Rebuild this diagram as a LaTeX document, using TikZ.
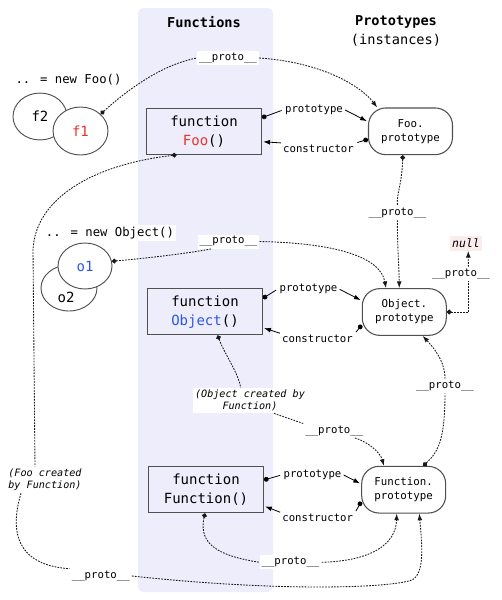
\documentclass[tikz,border=0pt]{standalone}
\usepackage{fontspec}
\setmainfont{DejaVu Sans Mono}[BoldFont={DejaVu Sans Mono Bold}, ItalicFont={DejaVu Sans Mono Oblique}]
\usetikzlibrary{arrows.meta, shapes.geometric}
\definecolor{bandblue}{RGB}{237,237,252}
\definecolor{foored}{RGB}{230,50,40}
\definecolor{objblue}{RGB}{45,85,235}
\definecolor{nullpink}{RGB}{252,237,237}
\definecolor{edgegray}{RGB}{80,80,80}

\begin{document}
\begin{tikzpicture}[x=0.75pt, y=-0.75pt, >={Latex[length=5pt, width=3.6pt]},
    ball/.tip={Circle[length=3.6pt]},
    fbox/.style={draw=edgegray, line width=0.9pt, minimum width=86pt, minimum height=34.5pt, align=center, inner sep=1pt, font=\fontsize{10.5}{14.25}\selectfont},
    pbox/.style={draw=edgegray, line width=0.8pt, rounded corners=13pt, minimum width=63pt, minimum height=35pt, align=center, inner sep=1pt, font=\fontsize{8.1}{10.5}\selectfont},
    inst/.style={draw=edgegray, line width=0.7pt, ellipse, fill=white, inner sep=0pt, font=\fontsize{10.5}{12}\selectfont},
    lbl/.style={fill=white, inner sep=1.5pt, font=\fontsize{8}{9.5}\selectfont},
    note/.style={fill=white, inner sep=1.5pt, font=\itshape\fontsize{7.6}{9.2}\selectfont},
    plink/.style={line width=0.6pt, black, shorten >=1pt},
    protolink/.style={line width=0.65pt, dash pattern=on 1.3pt off 0.9pt, black!90}]
    \useasboundingbox (0,0) rectangle (502,600);
    \fill [bandblue, rounded corners=4pt] (138,8) rectangle (273,592);

    \node [font=\bfseries\fontsize{10.2}{14.3}\selectfont] (hfunc) at (204,22) {Functions};
    \node [align=center, font=\fontsize{10.2}{14.3}\selectfont] (hproto) at (396,31) {\textbf{Prototypes}\\(instances)};

    % instances
    \node [lbl, font=\fontsize{9.2}{11}\selectfont] (newfoo) at (68.5,80) {.. = new Foo()};
    \node [inst, minimum width=40.5pt, minimum height=35.2pt] (f2) at (40,116.5) {f2};
    \node [inst, minimum width=41.2pt, minimum height=36pt] (f1) at (80.5,131) {\textcolor{foored}{f1}};
    \node [lbl, font=\fontsize{9.2}{11}\selectfont] (newobj) at (110,233.3) {.. = new Object()};
    \node [inst, minimum width=42pt, minimum height=34.5pt] (o2) at (69,288) {};
    \node [font=\fontsize{10.5}{12}\selectfont] (o2txt) at (66,297) {o2};
    \node [inst, minimum width=40.5pt, minimum height=34.5pt] (o1) at (85,266) {\textcolor{objblue}{o1}};

    % functions and prototypes
    \node [fbox] (foo) at (204,131.3) {function\\\textcolor{foored}{Foo}()};
    \node [fbox] (object) at (205,311.7) {function\\\textcolor{objblue}{Object}()};
    \node [fbox] (function) at (206,489.7) {function\\Function()};
    \node [pbox] (fooproto) at (410.5,131.3) {Foo.\\prototype};
    \node [pbox] (objproto) at (404.3,312) {Object.\\prototype};
    \node [pbox] (funcproto) at (403.7,489.7) {Function.\\prototype};
    \node [fill=nullpink, inner sep=2pt, font=\itshape\fontsize{8.6}{10}\selectfont] (nullv) at (466,243.5) {null};

    % labels
    \node [lbl] (pr1) at (314,110) {prototype};
    \node [lbl] (co1) at (318.5,149) {constructor};
    \node [lbl] (pr2) at (308.5,289.3) {prototype};
    \node [lbl] (co2) at (317.5,339.3) {constructor};
    \node [lbl] (pr3) at (312.5,475) {prototype};
    \node [lbl] (co3) at (317.7,518.3) {constructor};
    \node [lbl] (p1) at (228,58) {\_\_proto\_\_};
    \node [lbl] (p2) at (397.5,213) {\_\_proto\_\_};
    \node [lbl] (p3) at (461,274) {\_\_proto\_\_};
    \node [lbl] (p4) at (228.5,241.5) {\_\_proto\_\_};
    \node [lbl] (p5) at (334.3,430.7) {\_\_proto\_\_};
    \node [lbl] (p6) at (445,386) {\_\_proto\_\_};
    \node [lbl] (p7) at (290.5,562.3) {\_\_proto\_\_};
    \node [lbl] (p8) at (100.8,576) {\_\_proto\_\_};
    \node [note, align=center] (note1) at (250,400.5) {(Object created by\\Function)};
    \node [note, align=left] (note2) at (45,480) {(Foo created\\by Function)};

    % prototype / constructor
    \draw [plink, ball-] ([yshift=10.2pt]foo.east) -- (pr1.west);
    \draw [plink, ->] (pr1.east) -- ([yshift=7.2pt]fooproto.west);
    \draw [plink, ball-] ([yshift=-6pt]fooproto.west) -- (co1.north east);
    \draw [plink, ->] (co1.north west) -- ([yshift=-7.8pt]foo.east);

    \draw [plink, ball-] ([yshift=10pt]object.east) -- (pr2.west);
    \draw [plink, ->] (pr2.east) -- ([yshift=8.5pt]objproto.west);
    \draw [plink, ball-] ([yshift=-9.75pt]objproto.west) -- (co2.north east);
    \draw [plink, ->] (co2.north west) -- ([yshift=-12pt]object.east);

    \draw [plink, ball-] ([yshift=7.3pt]function.east) -- (pr3.west);
    \draw [plink, ->] (pr3.east) -- ([yshift=4.3pt]funcproto.west);
    \draw [plink, ball-] ([yshift=-9pt]funcproto.west) -- (co3.north east);
    \draw [plink, ->] (co3.north west) -- ([yshift=-12.2pt]function.east);

    % __proto__ chains
    \draw [protolink, ball-] (f1.40) .. controls (125,92) and (160,65) .. (p1.west);
    \draw [protolink, ->] (p1.east) .. controls (320,62) and (360,85) .. ([xshift=-25pt]fooproto.north);

    \draw [protolink, ball-] ([xshift=-5.8pt]fooproto.south) .. controls (402,185) and (396,195) .. (p2.north);
    \draw [protolink, ->] (p2.south) .. controls (397,240) and (399,265) .. ([xshift=-3.75pt]objproto.north);

    \draw [protolink, ball-] (objproto.east) -| ([xshift=5.5pt]p3.south);
    \draw [protolink, ->] ([xshift=5.5pt]p3.north) -- ([xshift=1.7pt]nullv.south);

    \draw [protolink, ball-] (o1.10) .. controls (160,257) and (195,252) .. ([xshift=11pt]p4.south west);
    \draw [protolink, ->] (p4.east) .. controls (330,243) and (380,255) .. ([xshift=-13.7pt]objproto.north);

    \draw [protolink, ball-] ([xshift=9.5pt]object.south) .. controls (225,355) and (238,372) .. ([xshift=-7pt]note1.north);
    \draw [protolink] ([xshift=18pt]note1.south) -- (p5.north west);
    \draw [protolink, ->] ([xshift=15.5pt]p5.south) .. controls (368,442) and (380,452) .. ([xshift=-14.8pt]funcproto.north);

    \draw [protolink, ball-] ([xshift=14.7pt]funcproto.north) .. controls (438,452) and (445,440) .. (p6.south);
    \draw [protolink, ->] (p6.north) .. controls (445,360) and (432,346) .. ([xshift=13.8pt]objproto.south);

    \draw [protolink, ball-] ([xshift=-20.5pt]foo.south) .. controls (90,165) and (35,200) .. (33,250) -- ([xshift=-7.5pt]note2.north);
    \draw [protolink] ([xshift=-18pt]note2.south) .. controls (10,530) and (15,565) .. (p8.north west);
    \draw [protolink, ->] (p8.east) .. controls (280,592) and (390,588) .. (412,580) .. controls (425,573) and (422,545) .. ([xshift=11.7pt]funcproto.south);

    \draw [protolink, ball-] ([xshift=-0.75pt]function.south) .. controls (198,545) and (220,556) .. (p7.west);
    \draw [protolink, ->] (p7.east) .. controls (370,561) and (396,545) .. ([xshift=-5.25pt]funcproto.south);
\end{tikzpicture}
\end{document}
